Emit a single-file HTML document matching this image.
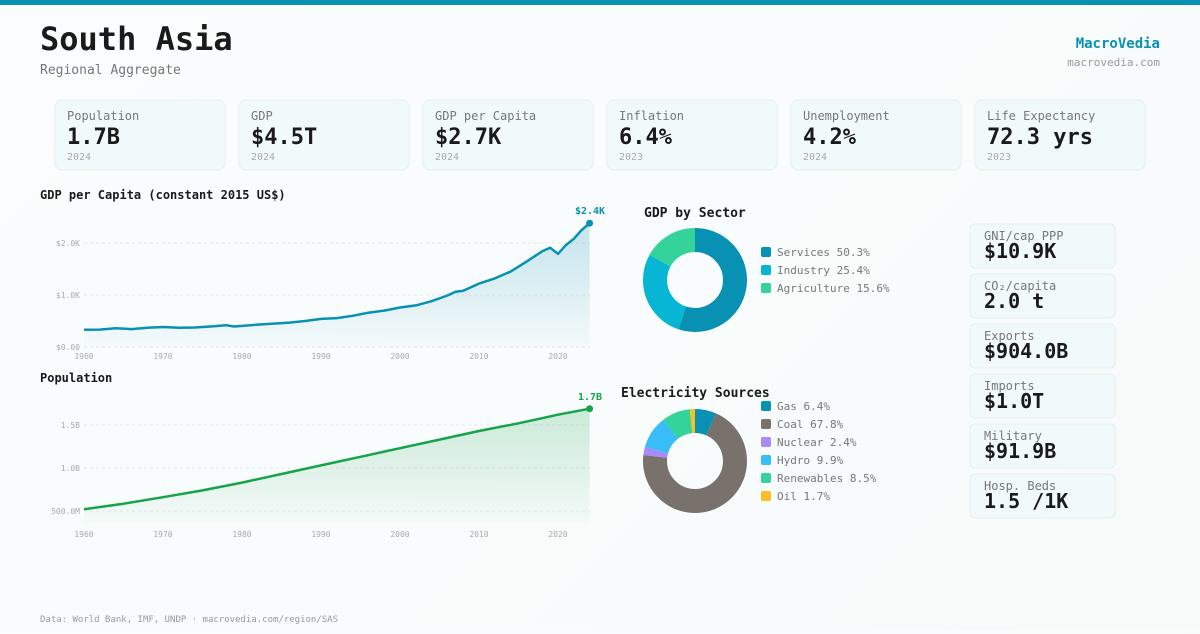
<!DOCTYPE html>
<html><head><meta charset="utf-8"><style>
body{margin:0;width:1200px;height:630px;overflow:hidden;background:linear-gradient(135deg,#fafcfd,#f6fbfa);font-family:"DejaVu Sans Mono","Liberation Mono",monospace;}
svg text{font-family:"DejaVu Sans Mono","Liberation Mono",monospace;}
</style></head><body>
<svg width="1200" height="630" xmlns="http://www.w3.org/2000/svg">
<defs>
<linearGradient id="gb" x1="0" y1="0" x2="0" y2="1"><stop offset="0" stop-color="#0891b2" stop-opacity="0.22"/><stop offset="1" stop-color="#0891b2" stop-opacity="0.02"/></linearGradient>
<linearGradient id="gg" x1="0" y1="0" x2="0" y2="1"><stop offset="0" stop-color="#16a34a" stop-opacity="0.2"/><stop offset="1" stop-color="#16a34a" stop-opacity="0.02"/></linearGradient>
</defs>
<rect x="0" y="0" width="1200" height="5" fill="#0891b2"/>
<text x="40" y="50" font-size="32" font-weight="bold" fill="#1a1a1a">South Asia</text>
<text x="40" y="74" font-size="13" fill="#777">Regional Aggregate</text>
<text x="1160" y="48" font-size="14" font-weight="bold" fill="#0891b2" text-anchor="end">MacroVedia</text>
<text x="1160" y="66" font-size="11" fill="#999" text-anchor="end">macrovedia.com</text>

<g font-size="12">
<g><rect x="55" y="100" width="170" height="70" rx="7" fill="#f1fafa" stroke="#e6efef"/><text x="67" y="120" fill="#777">Population</text><text x="67" y="144" font-size="22" font-weight="bold" fill="#1a1a1a">1.7B</text><text x="67" y="160" font-size="10" fill="#aaa">2024</text></g>
<g><rect x="239" y="100" width="170" height="70" rx="7" fill="#f1fafa" stroke="#e6efef"/><text x="251" y="120" fill="#777">GDP</text><text x="251" y="144" font-size="22" font-weight="bold" fill="#1a1a1a">$4.5T</text><text x="251" y="160" font-size="10" fill="#aaa">2024</text></g>
<g><rect x="423" y="100" width="170" height="70" rx="7" fill="#f1fafa" stroke="#e6efef"/><text x="435" y="120" fill="#777">GDP per Capita</text><text x="435" y="144" font-size="22" font-weight="bold" fill="#1a1a1a">$2.7K</text><text x="435" y="160" font-size="10" fill="#aaa">2024</text></g>
<g><rect x="607" y="100" width="170" height="70" rx="7" fill="#f1fafa" stroke="#e6efef"/><text x="619" y="120" fill="#777">Inflation</text><text x="619" y="144" font-size="22" font-weight="bold" fill="#1a1a1a">6.4%</text><text x="619" y="160" font-size="10" fill="#aaa">2023</text></g>
<g><rect x="791" y="100" width="170" height="70" rx="7" fill="#f1fafa" stroke="#e6efef"/><text x="803" y="120" fill="#777">Unemployment</text><text x="803" y="144" font-size="22" font-weight="bold" fill="#1a1a1a">4.2%</text><text x="803" y="160" font-size="10" fill="#aaa">2024</text></g>
<g><rect x="975" y="100" width="170" height="70" rx="7" fill="#f1fafa" stroke="#e6efef"/><text x="987" y="120" fill="#777">Life Expectancy</text><text x="987" y="144" font-size="22" font-weight="bold" fill="#1a1a1a">72.3 yrs</text><text x="987" y="160" font-size="10" fill="#aaa">2023</text></g>
</g>

<text x="40" y="199" font-size="12" font-weight="bold" fill="#1a1a1a">GDP per Capita (constant 2015 US$)</text>
<g stroke="#e5e9ec" stroke-dasharray="3,3"><line x1="84" y1="243" x2="590" y2="243"/><line x1="84" y1="295" x2="590" y2="295"/><line x1="84" y1="347" x2="590" y2="347"/></g>
<g font-size="8" fill="#aaa" text-anchor="end"><text x="80" y="246">$2.0K</text><text x="80" y="298">$1.0K</text><text x="80" y="350">$0.00</text></g>
<g font-size="8" fill="#aaa" text-anchor="middle"><text x="84" y="359">1960</text><text x="163" y="359">1970</text><text x="242" y="359">1980</text><text x="321" y="359">1990</text><text x="400" y="359">2000</text><text x="479" y="359">2010</text><text x="558" y="359">2020</text></g>
<path d="M84,329.8 L99.8,329.6 115.6,328.3 131.4,329.1 147.2,327.8 163,327 178.8,327.8 194.6,327.5 210.4,326.5 226.2,325.2 234.1,326.5 242,325.9 257.8,324.6 273.6,323.6 289.4,322.6 305.2,321 321,318.9 336.8,318.1 352.6,315.8 368.4,312.7 384.2,310.6 400,307.5 415.8,305.4 431.6,301.2 447.4,295.5 455.3,291.9 463.2,290.8 479,283.6 494.8,278.4 510.6,271.6 526.4,261.7 542.2,251.3 550.1,247.7 558,253.9 565.9,245.1 573.8,238.8 581.7,230 589.6,223.2 L589.6,347 L84,347 Z" fill="url(#gb)"/>
<polyline points="84,329.8 99.8,329.6 115.6,328.3 131.4,329.1 147.2,327.8 163,327 178.8,327.8 194.6,327.5 210.4,326.5 226.2,325.2 234.1,326.5 242,325.9 257.8,324.6 273.6,323.6 289.4,322.6 305.2,321 321,318.9 336.8,318.1 352.6,315.8 368.4,312.7 384.2,310.6 400,307.5 415.8,305.4 431.6,301.2 447.4,295.5 455.3,291.9 463.2,290.8 479,283.6 494.8,278.4 510.6,271.6 526.4,261.7 542.2,251.3 550.1,247.7 558,253.9 565.9,245.1 573.8,238.8 581.7,230 589.6,223.2" fill="none" stroke="#0891b2" stroke-width="2.5" stroke-linejoin="round"/>
<circle cx="589.6" cy="223.2" r="3.5" fill="#0891b2"/>
<text x="590" y="214" font-size="10" font-weight="bold" fill="#0891b2" text-anchor="middle">$2.4K</text>

<text x="40" y="382" font-size="12" font-weight="bold" fill="#1a1a1a">Population</text>
<g stroke="#e5e9ec" stroke-dasharray="3,3"><line x1="84" y1="425" x2="590" y2="425"/><line x1="84" y1="468" x2="590" y2="468"/><line x1="84" y1="511" x2="590" y2="511"/></g>
<g font-size="8" fill="#aaa" text-anchor="end"><text x="80" y="428">1.5B</text><text x="80" y="471">1.0B</text><text x="80" y="514">500.0M</text></g>
<g font-size="8" fill="#aaa" text-anchor="middle"><text x="84" y="537">1960</text><text x="163" y="537">1970</text><text x="242" y="537">1980</text><text x="321" y="537">1990</text><text x="400" y="537">2000</text><text x="479" y="537">2010</text><text x="558" y="537">2020</text></g>
<path d="M84,509.3 L123.5,503.7 163,497.2 202.5,490.4 242,482.6 281.5,474 321,465.4 360.5,456.8 400,448.2 439.5,439.6 479,431 518.5,423.3 558,414.7 589.6,408.7 L589.6,523 L84,523 Z" fill="url(#gg)"/>
<polyline points="84,509.3 123.5,503.7 163,497.2 202.5,490.4 242,482.6 281.5,474 321,465.4 360.5,456.8 400,448.2 439.5,439.6 479,431 518.5,423.3 558,414.7 589.6,408.7" fill="none" stroke="#16a34a" stroke-width="2.5" stroke-linejoin="round"/>
<circle cx="589.6" cy="408.7" r="3.5" fill="#16a34a"/>
<text x="590" y="400" font-size="10" font-weight="bold" fill="#16a34a" text-anchor="middle">1.7B</text>

<text x="644" y="217" font-size="13" font-weight="bold" fill="#1a1a1a">GDP by Sector</text>
<g transform="rotate(-90 695 280)" fill="none" stroke-width="24">
<circle cx="695" cy="280" r="40" stroke="#0891b2" stroke-dasharray="138.46 251.33" stroke-dashoffset="0"/>
<circle cx="695" cy="280" r="40" stroke="#06b6d4" stroke-dasharray="69.92 251.33" stroke-dashoffset="-138.46"/>
<circle cx="695" cy="280" r="40" stroke="#34d399" stroke-dasharray="42.95 251.33" stroke-dashoffset="-208.38"/>
</g>
<g font-size="11" fill="#777">
<rect x="761" y="247" width="10" height="10" rx="2" fill="#0891b2"/><text x="777" y="256">Services 50.3%</text>
<rect x="761" y="265" width="10" height="10" rx="2" fill="#06b6d4"/><text x="777" y="274">Industry 25.4%</text>
<rect x="761" y="283" width="10" height="10" rx="2" fill="#34d399"/><text x="777" y="292">Agriculture 15.6%</text>
</g>

<text x="621" y="397" font-size="13" font-weight="bold" fill="#1a1a1a">Electricity Sources</text>
<g transform="rotate(-90 695 461)" fill="none" stroke-width="24">
<circle cx="695" cy="461" r="40" stroke="#0891b2" stroke-dasharray="16.63 251.33" stroke-dashoffset="0"/>
<circle cx="695" cy="461" r="40" stroke="#78716c" stroke-dasharray="176.22 251.33" stroke-dashoffset="-16.63"/>
<circle cx="695" cy="461" r="40" stroke="#a78bfa" stroke-dasharray="6.24 251.33" stroke-dashoffset="-192.85"/>
<circle cx="695" cy="461" r="40" stroke="#38bdf8" stroke-dasharray="25.73 251.33" stroke-dashoffset="-199.09"/>
<circle cx="695" cy="461" r="40" stroke="#34d399" stroke-dasharray="22.09 251.33" stroke-dashoffset="-224.82"/>
<circle cx="695" cy="461" r="40" stroke="#fbbf24" stroke-dasharray="4.42 251.33" stroke-dashoffset="-246.91"/>
</g>
<g font-size="11" fill="#777">
<rect x="761" y="401" width="10" height="10" rx="2" fill="#0891b2"/><text x="777" y="410">Gas 6.4%</text>
<rect x="761" y="419" width="10" height="10" rx="2" fill="#78716c"/><text x="777" y="428">Coal 67.8%</text>
<rect x="761" y="437" width="10" height="10" rx="2" fill="#a78bfa"/><text x="777" y="446">Nuclear 2.4%</text>
<rect x="761" y="455" width="10" height="10" rx="2" fill="#38bdf8"/><text x="777" y="464">Hydro 9.9%</text>
<rect x="761" y="473" width="10" height="10" rx="2" fill="#34d399"/><text x="777" y="482">Renewables 8.5%</text>
<rect x="761" y="491" width="10" height="10" rx="2" fill="#fbbf24"/><text x="777" y="500">Oil 1.7%</text>
</g>

<g font-size="12" fill="#777">
<rect x="970" y="224" width="145" height="44" rx="5" fill="#f1fafa" stroke="#e6efef"/><text x="984" y="240">GNI/cap PPP</text><text x="984" y="258" font-size="20" font-weight="bold" fill="#1a1a1a">$10.9K</text>
<rect x="970" y="274" width="145" height="44" rx="5" fill="#f1fafa" stroke="#e6efef"/><text x="984" y="290">CO₂/capita</text><text x="984" y="308" font-size="20" font-weight="bold" fill="#1a1a1a">2.0 t</text>
<rect x="970" y="324" width="145" height="44" rx="5" fill="#f1fafa" stroke="#e6efef"/><text x="984" y="340">Exports</text><text x="984" y="358" font-size="20" font-weight="bold" fill="#1a1a1a">$904.0B</text>
<rect x="970" y="374" width="145" height="44" rx="5" fill="#f1fafa" stroke="#e6efef"/><text x="984" y="390">Imports</text><text x="984" y="408" font-size="20" font-weight="bold" fill="#1a1a1a">$1.0T</text>
<rect x="970" y="424" width="145" height="44" rx="5" fill="#f1fafa" stroke="#e6efef"/><text x="984" y="440">Military</text><text x="984" y="458" font-size="20" font-weight="bold" fill="#1a1a1a">$91.9B</text>
<rect x="970" y="474" width="145" height="44" rx="5" fill="#f1fafa" stroke="#e6efef"/><text x="984" y="490">Hosp. Beds</text><text x="984" y="508" font-size="20" font-weight="bold" fill="#1a1a1a">1.5 /1K</text>
</g>

<text x="40" y="622" font-size="9" fill="#999">Data: World Bank, IMF, UNDP · macrovedia.com/region/SAS</text>
</svg>
</body></html>
